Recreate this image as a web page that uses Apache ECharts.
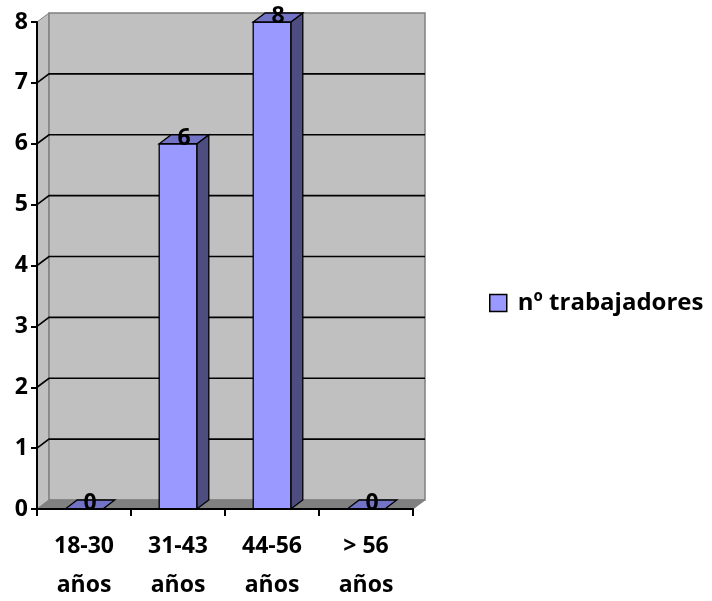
<!DOCTYPE html>
<html>
<head>
<meta charset="utf-8">
<script src="https://cdn.jsdelivr.net/npm/echarts@6/dist/echarts.min.js"></script>
<style>
  html, body { margin: 0; padding: 0; background: #ffffff; }
  #chart { width: 712px; height: 601px; }
</style>
</head>
<body>
<div id="chart"></div>
<script>
// Age bands and the number of workers in each
const categories = ['18-30\naños', '31-43\naños', '44-56\naños', '> 56\naños'];
const workers = [0, 6, 8, 0];
const yTicks = [0, 1, 2, 3, 4, 5, 6, 7, 8];
const seriesName = 'nº trabajadores';

const FONT = '"Open Sans"';
// depth offset used for the pseudo-3D walls and bars
const DX = 12, DY = -9;

const chart = echarts.init(document.getElementById('chart'), null, { renderer: 'canvas' });

function poly(points, fill, stroke, lw) {
  return {
    type: 'polygon',
    shape: { points: points },
    style: { fill: fill, stroke: stroke || null, lineWidth: lw || 0 }
  };
}

// walls, floor and gridlines
function renderWalls(params, api) {
  const cs = params.coordSys;
  const xl = cs.x, xr = cs.x + cs.width;
  const yBase = api.coord([0, 0])[1];
  const yTop = api.coord([0, yTicks[yTicks.length - 1]])[1];
  const children = [];
  // left side wall
  children.push(poly([[xl, yBase], [xl, yTop], [xl + DX, yTop + DY], [xl + DX, yBase + DY]], '#c0c0c0', '#808080', 1));
  // back wall
  children.push(poly([[xl + DX, yTop + DY], [xr + DX, yTop + DY], [xr + DX, yBase + DY], [xl + DX, yBase + DY]], '#c0c0c0', '#808080', 1.5));
  // floor
  children.push(poly([[xl, yBase], [xl + DX, yBase + DY], [xr + DX, yBase + DY], [xr, yBase]], '#808080', '#808080', 1));
  // gridlines across side and back walls
  yTicks.forEach(function (v) {
    if (v === 0 || v === yTicks[yTicks.length - 1]) return;
    const y = api.coord([0, v])[1];
    children.push({
      type: 'polyline',
      shape: { points: [[xl, y], [xl + DX, y + DY], [xr + DX, y + DY]] },
      style: { stroke: '#000000', lineWidth: 1.6, fill: null }
    });
  });
  return { type: 'group', children: children };
}

// 3D-looking column with its value label
function renderBar(params, api) {
  const idx = api.value(0);
  const val = api.value(1);
  const top = api.coord([idx, val]);
  const base = api.coord([idx, 0]);
  const band = api.size([1, 0])[0];
  const bw = band * 0.4;
  const x0 = top[0] - bw / 2, x1 = top[0] + bw / 2;
  const yT = top[1], yB = base[1];
  const children = [];
  if (yB - yT > 0.5) {
    children.push(poly([[x1, yB], [x1, yT], [x1 + DX, yT + DY], [x1 + DX, yB + DY]], '#4d4d80', '#000000', 1.3));
    children.push(poly([[x0, yB], [x0, yT], [x1, yT], [x1, yB]], '#9999ff', '#000000', 1.3));
  }
  children.push(poly([[x0, yT], [x1, yT], [x1 + DX, yT + DY], [x0 + DX, yT + DY]], '#7373c6', '#000000', 1.3));
  children.push({
    type: 'text',
    style: {
      x: top[0] + DX / 2,
      y: yT + DY / 2 - 1,
      text: String(val),
      fill: '#000000',
      font: 'bold 23px ' + FONT,
      align: 'center',
      verticalAlign: 'middle'
    },
    z2: 10
  });
  return { type: 'group', children: children };
}

const option = {
  backgroundColor: '#ffffff',
  animation: false,
  grid: { left: 37, right: 299, top: 22, bottom: 92, containLabel: false, outerBoundsMode: 'none' },
  legend: {
    data: [{ name: seriesName, icon: 'rect', itemStyle: { color: '#9999ff', borderColor: '#000000', borderWidth: 1.5 } }],
    left: 489,
    top: 291,
    padding: 0,
    itemWidth: 17,
    itemHeight: 17,
    textStyle: { fontFamily: FONT, fontWeight: 'bold', fontSize: 24, color: '#000000', padding: [0, 0, 0, 6] }
  },
  xAxis: {
    type: 'category',
    data: categories,
    z: 6,
    axisLine: { show: true, lineStyle: { color: '#000000', width: 2 } },
    axisTick: { show: true, length: 7, lineStyle: { color: '#000000', width: 2 } },
    axisLabel: { fontFamily: FONT, fontWeight: 'bold', fontSize: 23, color: '#000000', lineHeight: 39, margin: 18 },
    splitLine: { show: false }
  },
  yAxis: {
    type: 'value',
    min: 0,
    max: 8,
    interval: 1,
    z: 6,
    axisLine: { show: true, lineStyle: { color: '#000000', width: 2 } },
    axisTick: { show: true, length: 6, lineStyle: { color: '#000000', width: 2 } },
    axisLabel: { fontFamily: FONT, fontWeight: 'bold', fontSize: 23, color: '#000000', margin: 9 },
    splitLine: { show: false }
  },
  series: [
    {
      type: 'custom',
      name: 'walls',
      z: 1,
      silent: true,
      renderItem: renderWalls,
      data: [[0, 0]]
    },
    {
      type: 'custom',
      name: seriesName,
      z: 3,
      itemStyle: { color: '#9999ff', borderColor: '#000000' },
      renderItem: renderBar,
      data: workers.map(function (v, i) { return [i, v]; })
    }
  ]
};

chart.setOption(option);
</script>
</body>
</html>
